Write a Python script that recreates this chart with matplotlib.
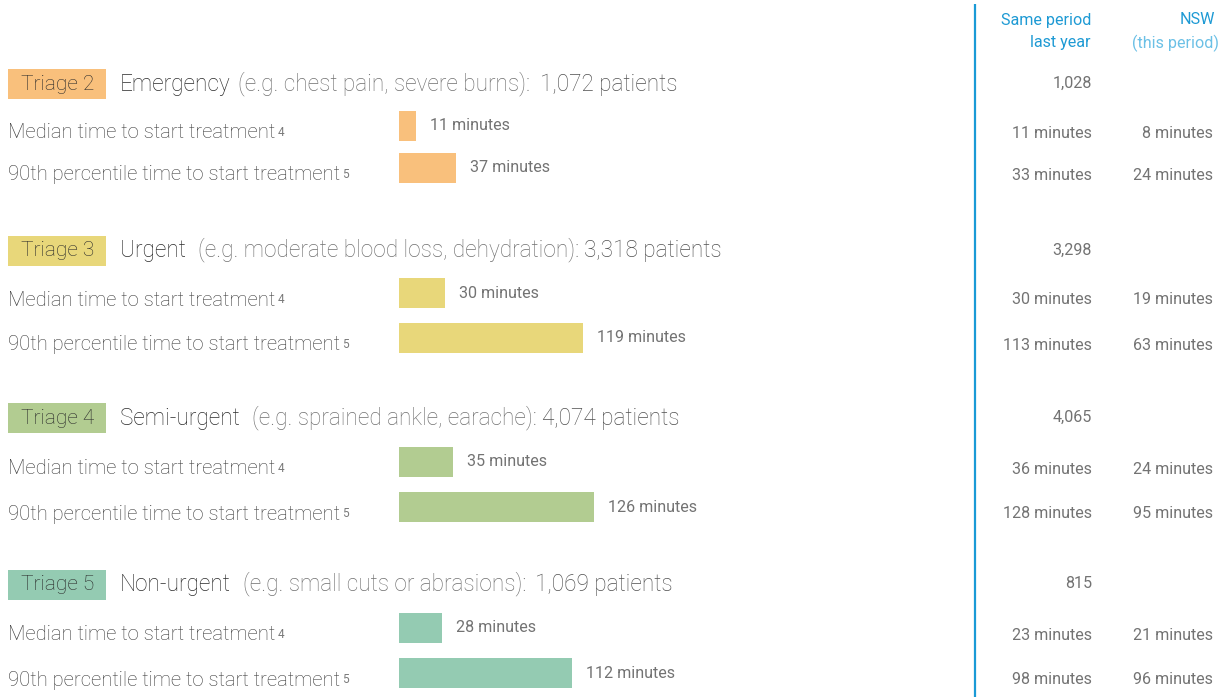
import matplotlib
matplotlib.use("Agg")
import matplotlib.pyplot as plt
from matplotlib.patches import Rectangle
from matplotlib import font_manager

# ---------------- data ----------------
triage_labels = ["Triage 2", "Triage 3", "Triage 4", "Triage 5"]
categories = ["Emergency", "Urgent", "Semi-urgent", "Non-urgent"]
examples = ["(e.g. chest pain, severe burns):",
            "(e.g. moderate blood loss, dehydration):",
            "(e.g. sprained ankle, earache):",
            "(e.g. small cuts or abrasions):"]
patients = [1072, 3318, 4074, 1069]
patients_last_year = [1028, 3298, 4065, 815]
median_minutes = [11, 30, 35, 28]
p90_minutes = [37, 119, 126, 112]
median_last_year = [11, 30, 36, 23]
p90_last_year = [33, 113, 128, 98]
median_nsw = [8, 19, 24, 21]
p90_nsw = [24, 63, 95, 96]
row_labels = ["Median time to start treatment", "90th percentile time to start treatment"]
row_notes = ["4", "5"]
col_headers = [("Same period", "last year"), ("NSW", "(this period)")]

# ---------------- style / layout ----------------
colors = ["#F9C07C", "#E8D77A", "#B2CC91", "#94CBB2"]
W, H = 1229, 697
header_y = [84, 251, 418, 585]
median_y = [126, 293, 462, 628]
p90_y = [168, 338, 507, 673]
gap_cat = [7, 12, 12, 12]
gap_num = [10, 5, 5, 9]

avail = {f.name for f in font_manager.fontManager.ttflist}
fam = "Roboto" if "Roboto" in avail else "DejaVu Sans"
plt.rcParams["font.family"] = [fam, "DejaVu Sans"]
WEIGHT = "light"
SW = "normal"     # weight of the small texts
SFS = 11.6        # size of the small texts

fig = plt.figure(figsize=(W / 100, H / 100), dpi=100)
ax = fig.add_axes([0, 0, 1, 1])
ax.set_xlim(0, W)
ax.set_ylim(H, 0)
ax.axis("off")

px_per_min = 1.547
bar_left_px = 399
max_min = 300
bax = fig.add_axes([bar_left_px / W, 0, max_min * px_per_min / W, 1])
bax.set_xlim(0, max_min)
bax.set_ylim(H, 0)
bax.axis("off")

DARK = "#2c2c2c"
MID = "#3a3a3a"
SMALL = "#737373"
LIGHT = "#707070"
NUM = "#505050"
BLUE = "#1E9AD4"
LBLUE = "#6BC0E6"

HFS = 16.3
for i in range(4):
    c = colors[i]
    hy = header_y[i]
    # badge
    ax.add_patch(Rectangle((8, hy - 15), 98, 30, facecolor=c, edgecolor="none"))
    ax.text(58, hy, triage_labels[i], ha="center", va="center", fontsize=15,
            color="#2a2a2a", fontweight=WEIGHT)
    t1 = ax.text(120, hy, categories[i], ha="left", va="center", fontsize=HFS,
                 color=DARK, fontweight=WEIGHT)
    t2 = ax.annotate(examples[i], xy=(1, 0), xycoords=t1, xytext=(gap_cat[i] * 0.72, 0),
                     textcoords="offset points", ha="left", va="bottom",
                     fontsize=HFS, color=LIGHT, fontweight=WEIGHT)
    ax.annotate(f"{patients[i]:,} patients", xy=(1, 0), xycoords=t2,
                xytext=(gap_num[i] * 0.72, 0), textcoords="offset points",
                ha="left", va="bottom", fontsize=HFS, color=NUM, fontweight=WEIGHT)
    ax.text(1092, hy - 1, f"{patients_last_year[i]:,}", ha="right", va="center",
            fontsize=SFS, color=SMALL, fontweight=SW)

    for j, (yy, val, ly, nsw) in enumerate([
            (median_y[i], median_minutes[i], median_last_year[i], median_nsw[i]),
            (p90_y[i], p90_minutes[i], p90_last_year[i], p90_nsw[i])]):
        bax.barh(yy, val, height=30, left=0, color=c, edgecolor="none")
        bax.annotate(f"{val} minutes", xy=(val, yy), xytext=(10, 0),
                     textcoords="offset points", ha="left", va="center",
                     fontsize=SFS, color=SMALL, fontweight=SW)
        lt = ax.text(8, yy + 7, row_labels[j], ha="left", va="center", fontsize=14.6,
                     color=MID, fontweight=WEIGHT)
        ax.annotate(row_notes[j], xy=(1, 1), xycoords=lt, xytext=(1.5, -2),
                    textcoords="offset points", ha="left", va="top", fontsize=8.5,
                    color="#7a7a7a", fontweight=SW)
        ax.text(1092, yy + 7, f"{ly} minutes", ha="right", va="center",
                fontsize=SFS, color=SMALL, fontweight=SW)
        ax.text(1213, yy + 7, f"{nsw} minutes", ha="right", va="center",
                fontsize=SFS, color=SMALL, fontweight=SW)

# right column headers
ax.text(1091, 20, col_headers[0][0], ha="right", va="center", fontsize=SFS,
        color=BLUE, fontweight=SW)
ax.text(1091, 43, col_headers[0][1], ha="right", va="center", fontsize=SFS,
        color=BLUE, fontweight=SW)
ax.text(1215, 20, col_headers[1][0], ha="right", va="center", fontsize=SFS,
        color=BLUE, fontweight=SW)
ax.text(1219, 43, col_headers[1][1], ha="right", va="center", fontsize=SFS,
        color=LBLUE, fontweight=SW)

# vertical divider
ax.plot([975, 975], [4, H], color="#1A9AD6", lw=1.6, solid_capstyle="butt")

fig.savefig("out.png", dpi=100)
